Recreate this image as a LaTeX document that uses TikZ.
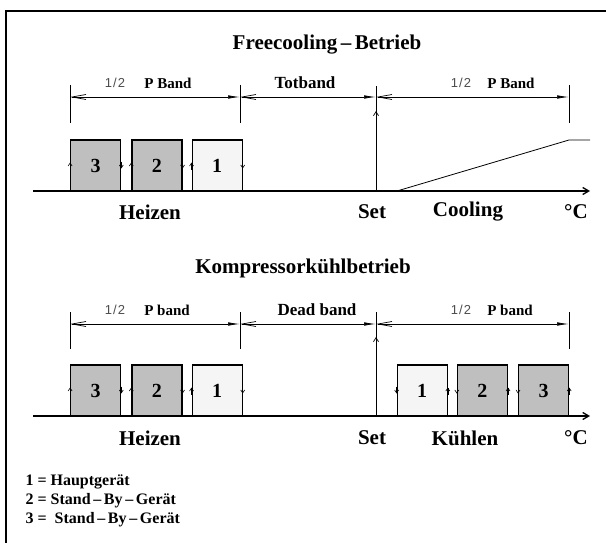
\documentclass[tikz,border=0pt]{standalone}
\usepackage{fontspec}
\setmainfont{Liberation Serif}
\newfontfamily\halffont{Liberation Sans}
\usetikzlibrary{arrows.meta,positioning}

\begin{document}
\begin{tikzpicture}[x=1pt, y=-1pt,
    heading/.style={font=\bfseries\fontsize{21}{25}\selectfont},
    axislabel/.style={font=\bfseries\fontsize{21}{25}\selectfont},
    bandlabel/.style={font=\bfseries\fontsize{15}{18}\selectfont},
    deadlabel/.style={font=\bfseries\fontsize{17}{20}\selectfont},
    halfmark/.style={font=\halffont\fontsize{13}{15}\selectfont, text=black!70},
    legendline/.style={font=\bfseries\fontsize{16}{19}\selectfont, anchor=west},
    unitbox/.style={draw, line width=1.2pt, minimum width=50pt, minimum height=51pt, inner sep=0pt, font=\bfseries\fontsize{20}{24}\selectfont},
    mainbox/.style={unitbox, fill=black!4},
    sparebox/.style={unitbox, fill=black!25},
    tick/.style={line width=0.7pt},
    dimline/.style={line width=0.7pt, {Straight Barb[length=14pt,width=5pt]}-{Latex[length=12pt,width=3.5pt]}},
    axisline/.style={line width=1.3pt, -{Straight Barb[length=6pt,width=7pt]}},
    setarrow/.style={line width=0.7pt, -{Straight Barb[length=4pt,width=5pt]}},
    edgetip/.style={line width=0.6pt, -{Straight Barb[length=3pt,width=4pt]}}
]
\useasboundingbox (0,0) rectangle (606,543);

% frame
\draw[line width=1.6pt] (6,560) -- (6,11) -- (620,11);

% ---------- Freecooling ----------
\node[heading] (fctitle) at (327,45) {Freecooling\,--\,Betrieb};

\node[halfmark] (fchalfl) at (115,83) {1\kern1pt/\kern1pt2};
\node[bandlabel] (fcbandl) at (168,83) {P Band};
\node[deadlabel] (fcdead) at (305,83) {Totband};
\node[halfmark] (fchalfr) at (461,83) {1\kern1pt/\kern1pt2};
\node[bandlabel] (fcbandr) at (511,83) {P Band};

\coordinate (fcl) at (70,97);
\coordinate (fcm) at (240,97);
\coordinate (fcs) at (376,97);
\coordinate (fcr) at (569,97);
\foreach \x in {70,240,569}
    \draw[tick] (\x,85) -- (\x,123);
\draw[dimline] (fcl) -- (fcm);
\draw[dimline] (fcm) -- (fcs);
\draw[dimline] (fcs) -- (fcr);

\coordinate (fcaxis) at (33,191);
\coordinate (fcaxisend) at (590,191);
\coordinate (fcset) at (376,191);
\draw[axisline] (fcaxis) -- (fcaxisend);
\draw[tick] (fcset) -- (376,86);
\draw[setarrow] (fcset) -- (376,111);

% heating stages
\node[sparebox] (fcheat3) at (95.7,165.5) {3};
\node[sparebox, right=10pt of fcheat3] (fcheat2) {2};
\node[mainbox, right=9pt of fcheat2] (fcheat1) {1};
\foreach \b in {fcheat3,fcheat2,fcheat1} {
    \draw[edgetip] ([yshift=-4pt]\b.west) -- ([yshift=3pt]\b.west);
    \draw[edgetip] ([yshift=4pt]\b.east) -- ([yshift=-3pt]\b.east);
}

% freecooling ramp
\coordinate (ramp0) at (397,191);
\coordinate (ramp1) at (569,140);
\coordinate (ramp2) at (590,140);
\draw[line width=0.8pt] (ramp0) -- (ramp1) -- (ramp2);

\node[axislabel] (fcheizen) at (150,212) {Heizen};
\node[axislabel] (fcsetlbl) at (372,212) {Set};
\node[axislabel] (fccooling) at (468,212) {Cooling};
\node[axislabel] (fcunit) at (576,212) {°C};

% ---------- Kompressor ----------
\node[heading] (kptitle) at (303,268) {Kompressorkühlbetrieb};

\node[halfmark] (kphalfl) at (115,310) {1\kern1pt/\kern1pt2};
\node[bandlabel] (kpbandl) at (167,310) {P band};
\node[deadlabel] (kpdead) at (317,310) {Dead band};
\node[halfmark] (kphalfr) at (461,310) {1\kern1pt/\kern1pt2};
\node[bandlabel] (kpbandr) at (510,310) {P band};

\coordinate (kpl) at (70,324);
\coordinate (kpm) at (240,324);
\coordinate (kps) at (376,324);
\coordinate (kpr) at (569,324);
\foreach \x in {70,240,569}
    \draw[tick] (\x,312) -- (\x,349);
\draw[dimline] (kpl) -- (kpm);
\draw[dimline] (kpm) -- (kps);
\draw[dimline] (kps) -- (kpr);

\coordinate (kpaxis) at (33,416);
\coordinate (kpaxisend) at (590,416);
\coordinate (kpset) at (376,416);
\draw[axisline] (kpaxis) -- (kpaxisend);
\draw[tick] (kpset) -- (376,312);
\draw[setarrow] (kpset) -- (376,337);

% heating stages
\node[sparebox] (kpheat3) at (95.7,390.5) {3};
\node[sparebox, right=10pt of kpheat3] (kpheat2) {2};
\node[mainbox, right=9pt of kpheat2] (kpheat1) {1};
\foreach \b in {kpheat3,kpheat2,kpheat1} {
    \draw[edgetip] ([yshift=-4pt]\b.west) -- ([yshift=3pt]\b.west);
    \draw[edgetip] ([yshift=4pt]\b.east) -- ([yshift=-3pt]\b.east);
}

% cooling stages
\node[mainbox] (kpcool1) at (422.2,390.5) {1};
\node[sparebox, right=9pt of kpcool1] (kpcool2) {2};
\node[sparebox, right=10pt of kpcool2] (kpcool3) {3};
\foreach \b in {kpcool1,kpcool2,kpcool3} {
    \draw[edgetip] ([yshift=4pt]\b.west) -- ([yshift=-3pt]\b.west);
    \draw[edgetip] ([yshift=-4pt]\b.east) -- ([yshift=3pt]\b.east);
}

\node[axislabel] (kpheizen) at (150,438) {Heizen};
\node[axislabel] (kpsetlbl) at (372,438) {Set};
\node[axislabel] (kpkuehlen) at (465,438) {Kühlen};
\node[axislabel] (kpunit) at (576,438) {°C};

% legend
\node[legendline] (leg1) at (22,482) {1 = Hauptgerät};
\node[legendline] (leg2) at (22,501) {2 = Stand\,--\,By\,--\,Gerät};
\node[legendline] (leg3) at (22,520) {3 = \ Stand\,--\,By\,--\,Gerät};
\end{tikzpicture}
\end{document}
